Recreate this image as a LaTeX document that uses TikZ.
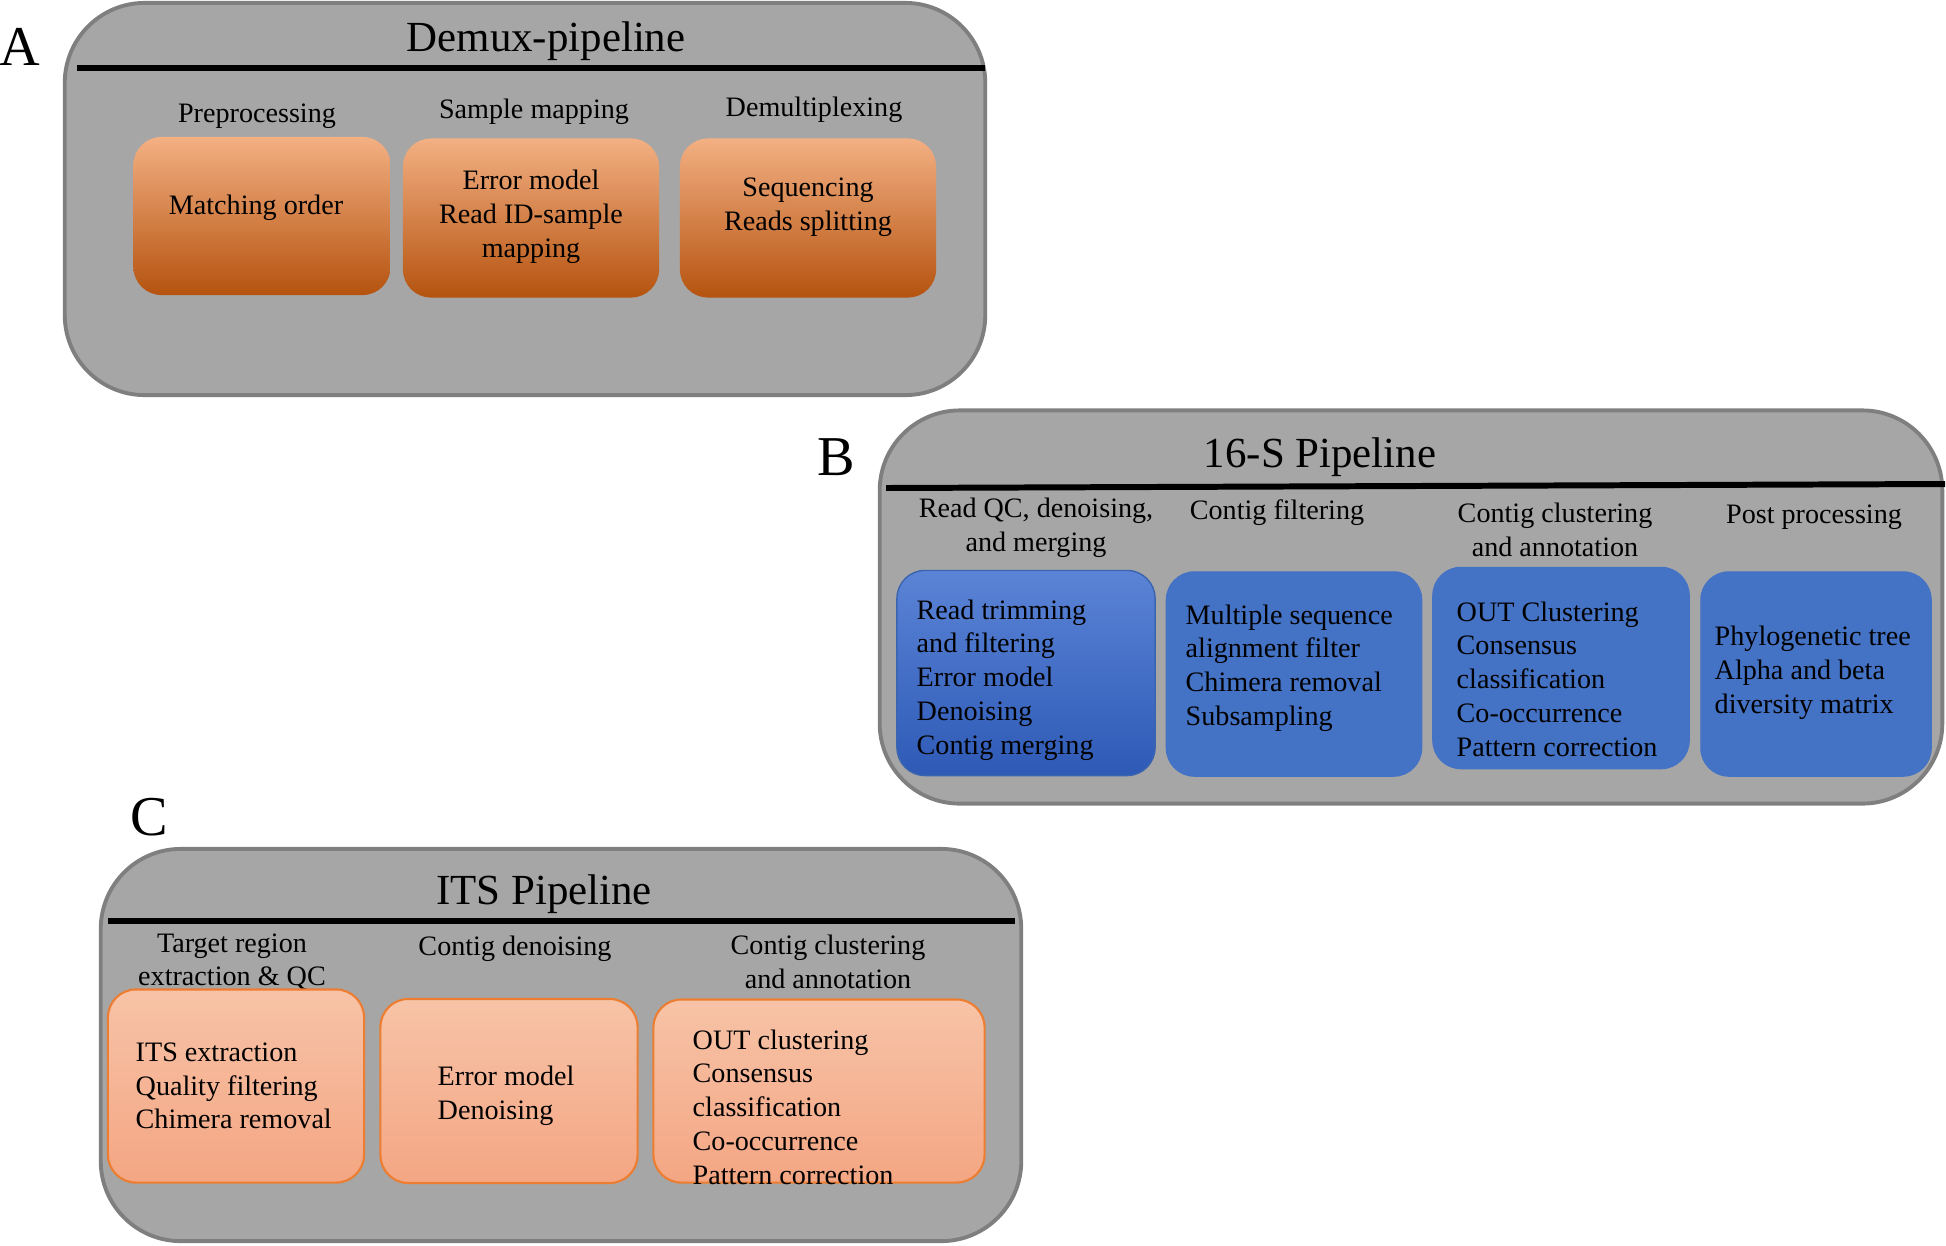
\documentclass[tikz,border=0pt]{standalone}
\usepackage{fontspec}
\setmainfont{Liberation Serif}
\usetikzlibrary{positioning}

\definecolor{panelgray}{HTML}{A6A6A6}
\definecolor{paneledge}{HTML}{7F7F7F}
\definecolor{orangetop}{HTML}{F3B083}
\definecolor{orangemid}{HTML}{EC7E38}
\definecolor{orangebot}{HTML}{B5530F}
\definecolor{bluebox}{HTML}{4472C4}
\definecolor{bluetop}{HTML}{5B84D6}
\definecolor{bluebot}{HTML}{2E5AB6}
\definecolor{blueedge}{HTML}{3B64B0}
\definecolor{peachtop}{HTML}{F7C3A7}
\definecolor{peachbot}{HTML}{F4A683}
\definecolor{peachedge}{HTML}{EC7D31}

\tikzset{
  panel/.style={draw=paneledge, line width=1.1pt, fill=panelgray,
                rounded corners=0.8cm, inner sep=0pt},
  rulebar/.style={line width=1.7pt, black},
  orangebox/.style={rounded corners=0.28cm, inner sep=0pt,
                top color=orangetop, middle color=orangemid, bottom color=orangebot},
  bluestep/.style={draw=bluebox, fill=bluebox, rounded corners=0.28cm, inner sep=0pt},
  peachbox/.style={draw=peachedge, line width=0.6pt, rounded corners=0.28cm, inner sep=0pt,
                top color=peachtop, bottom color=peachbot},
  boxtext/.style={font=\fontsize{8}{9.6}\selectfont, inner sep=0pt, align=left, anchor=west},
  midtext/.style={font=\fontsize{8}{9.6}\selectfont, inner sep=0pt, align=center},
  headtext/.style={font=\fontsize{8}{9.6}\selectfont, inner sep=0pt, align=center},
  titletext/.style={font=\fontsize{12.2}{14}\selectfont, inner sep=0pt},
  lettertext/.style={font=\fontsize{16}{18}\selectfont, inner sep=0pt}
}

\begin{document}
\begin{tikzpicture}[x=0.01cm, y=-0.01cm]
\useasboundingbox (0,0) rectangle (1946,1245);

\node[panel, minimum width=9.2cm, minimum height=3.92cm] (demux) at (525,199) {};
\node[lettertext] (lettera) at (20,47) {A};
\node[titletext] (demuxtitle) at (546,41) {Demux-pipeline};
\draw[rulebar] (77,68) -- (985,68);
\node[headtext] (preproc) at (257,116) {Preprocessing};
\node[headtext] (sampmap) at (534,112) {Sample mapping};
\node[headtext] (demultip) at (814,110) {Demultiplexing};
\node[orangebox, minimum width=2.57cm, minimum height=1.58cm] (a1) at (262,216) {};
\node[orangebox, minimum width=2.56cm, minimum height=1.59cm] (a2) at (531,218) {};
\node[orangebox, minimum width=2.56cm, minimum height=1.59cm] (a3) at (808,218) {};
\node[midtext] (a1t) at (256,208) {Matching order};
\node[midtext] (a2t) at (531,217) {Error model\\Read ID-sample\\mapping};
\node[midtext] (a3t) at (808,207) {Sequencing\\Reads splitting};

\node[panel, minimum width=10.62cm, minimum height=3.93cm] (sixteen) at (1411,607) {};
\node[lettertext] (letterb) at (836,457) {B};
\node[titletext] (sixteentitle) at (1320,457) {16-S Pipeline};
\draw[rulebar] (886,488) -- (1945,484);
\node[headtext] (readqc) at (1036,528) {Read QC, denoising,\\and merging};
\node[headtext] (contfilt) at (1277,513) {Contig filtering};
\node[headtext] (contclus) at (1555,530) {Contig clustering\\and annotation};
\node[headtext] (postproc) at (1814,517) {Post processing};
\node[bluestep, draw=blueedge, top color=bluetop, bottom color=bluebot,
      minimum width=2.58cm, minimum height=2.05cm] (b1) at (1026,673) {};
\node[bluestep, minimum width=2.55cm, minimum height=2.04cm] (b2) at (1294,674) {};
\node[bluestep, minimum width=2.56cm, minimum height=2.01cm] (b3) at (1561,668) {};
\node[bluestep, minimum width=2.30cm, minimum height=2.04cm] (b4) at (1816,674) {};
\node[boxtext] (b1t) at (916,680) {Read trimming\\and filtering\\Error model\\Denoising\\Contig merging};
\node[boxtext] (b2t) at (1185,668) {Multiple sequence\\alignment filter\\Chimera removal\\Subsampling};
\node[boxtext] (b3t) at (1456,679) {OUT Clustering\\Consensus\\classification\\Co-occurrence\\Pattern correction};
\node[boxtext] (b4t) at (1714,673) {Phylogenetic tree\\Alpha and beta\\diversity matrix};

\node[panel, minimum width=9.2cm, minimum height=3.92cm] (its) at (561,1045) {};
\node[lettertext] (letterc) at (149,817) {C};
\node[titletext] (itstitle) at (544,894) {ITS Pipeline};
\draw[rulebar] (108,921) -- (1015,921);
\node[headtext] (target) at (232,962) {Target region\\extraction \& QC};
\node[headtext] (contden) at (515,949) {Contig denoising};
\node[headtext] (itsclus) at (828,962) {Contig clustering\\and annotation};
\node[peachbox, minimum width=2.56cm, minimum height=1.93cm] (c1) at (236,1086) {};
\node[peachbox, minimum width=2.57cm, minimum height=1.84cm] (c2) at (509,1091) {};
\node[peachbox, minimum width=3.31cm, minimum height=1.83cm] (c3) at (819,1091) {};
\node[boxtext] (c1t) at (135,1086) {ITS extraction\\Quality filtering\\Chimera removal};
\node[boxtext] (c2t) at (437,1096) {Error model\\Denoising};
\node[boxtext] (c3t) at (692,1107) {OUT clustering\\Consensus\\classification\\Co-occurrence\\Pattern correction};
\end{tikzpicture}
\end{document}
